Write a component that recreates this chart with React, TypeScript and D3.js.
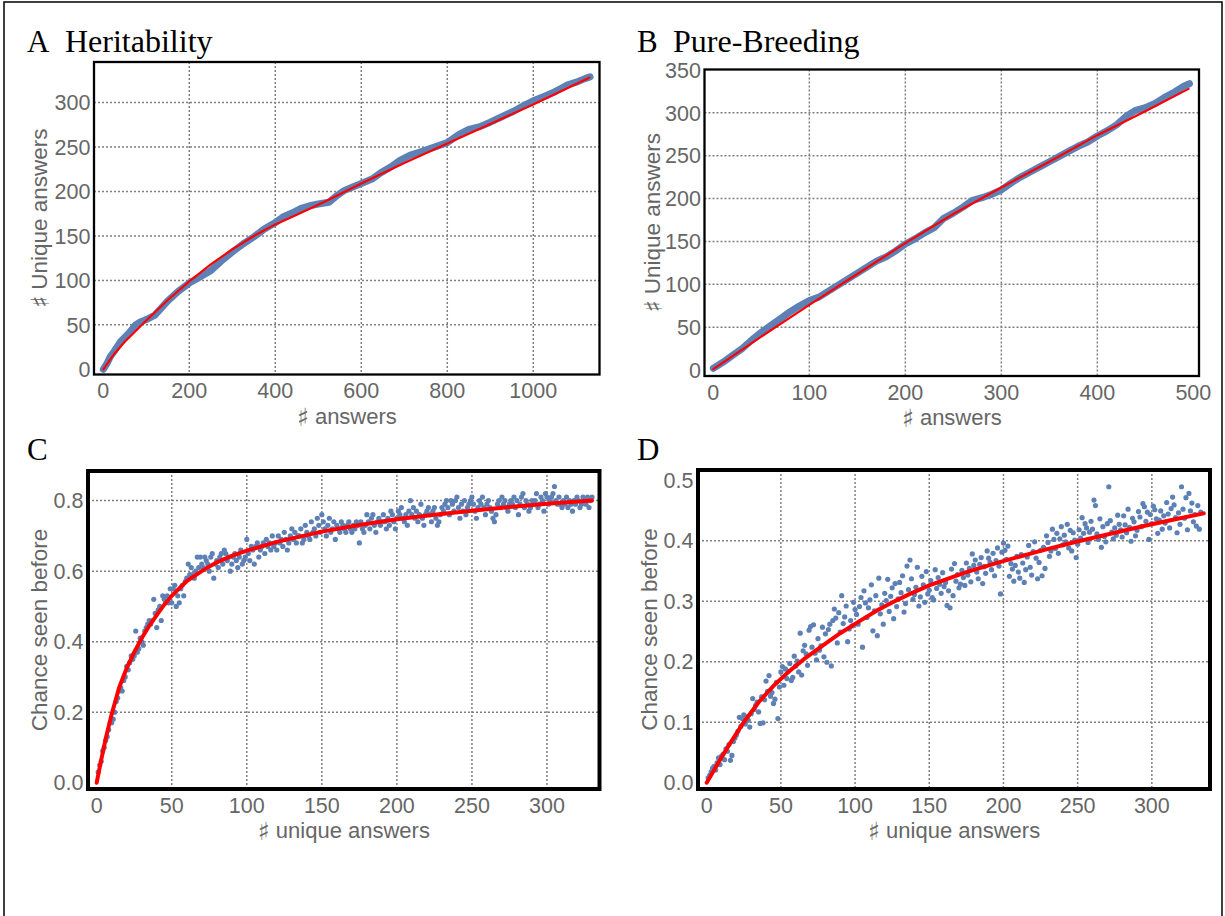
import React from 'react';
import * as d3 from 'd3';

// ---- A: Heritability (cumulative unique answers) ----
const heritAnswers = [0, 8, 16, 25, 40, 60, 75, 85, 100, 120, 150, 175, 200, 225, 250, 275, 300, 325, 350, 375, 400, 420, 440, 460, 480, 500, 525, 545, 560, 580, 600, 625, 645, 670, 690, 714, 740, 770, 800, 830, 850, 876, 900, 922, 953, 975, 1000, 1025, 1045, 1065, 1080, 1100, 1120, 1132];
const heritUnique = [0, 6, 14, 20, 31, 41, 50, 53, 56, 61, 77, 88, 97, 104, 111, 122, 132, 141, 149, 158, 165, 172, 176, 181, 184, 186, 188, 196, 201, 205, 209, 214, 221, 228, 235, 241, 245, 250, 255, 265, 270, 273, 278, 283, 290, 296, 302, 307, 311, 316, 320, 323, 327, 329];
const heritFitX = [0, 25, 50, 100, 150, 200, 250, 300, 350, 400, 450, 500, 550, 600, 700, 800, 900, 1000, 1130];
const heritFitY = [0, 17, 31, 55, 78, 99, 118, 135, 150, 163, 174, 185, 197, 209, 232, 254, 276, 298, 328];

// ---- B: Pure-Breeding ----
const pureAnswers = [0, 10, 20, 30, 40, 50, 60, 70, 80, 90, 100, 110, 120, 130, 140, 150, 160, 170, 180, 190, 200, 210, 220, 230, 240, 250, 260, 270, 280, 290, 300, 310, 320, 330, 340, 350, 360, 370, 380, 390, 400, 410, 420, 430, 440, 450, 460, 470, 480, 490, 496];
const pureUnique = [2, 9, 17, 25, 35, 44, 52, 60, 68, 75, 81, 85, 92, 99, 106, 113, 120, 127, 132, 139, 147, 153, 160, 166, 177, 183, 190, 198, 201, 205, 210, 218, 225, 231, 237, 243, 249, 255, 261, 266, 273, 279, 286, 296, 303, 306, 311, 318, 324, 331, 334];
const pureFitX = [0, 50, 100, 150, 200, 250, 300, 350, 400, 450, 495];
const pureFitY = [1, 39, 76, 112, 148, 182, 213, 243, 274, 302, 328];

// ---- C: chance seen before, Heritability (one point per unique answer) ----
const heritSeen = [
  0.03, 0.05, 0.06, 0.09, 0.10, 0.12, 0.13, 0.15, 0.17, 0.17,
  0.18, 0.20, 0.23, 0.24, 0.26, 0.27, 0.26, 0.29, 0.30, 0.33,
  0.32, 0.34, 0.36, 0.35, 0.36, 0.43, 0.37, 0.38, 0.41, 0.40,
  0.39, 0.43, 0.44, 0.45, 0.46, 0.45, 0.46, 0.52, 0.48, 0.44,
  0.49, 0.50, 0.46, 0.53, 0.52, 0.51, 0.53, 0.51, 0.55, 0.51,
  0.55, 0.56, 0.50, 0.53, 0.51, 0.55, 0.56, 0.53, 0.57, 0.58,
  0.62, 0.59, 0.61, 0.59, 0.58, 0.60, 0.64, 0.61, 0.64, 0.62,
  0.61, 0.64, 0.63, 0.62, 0.60, 0.64, 0.65, 0.58, 0.62, 0.63,
  0.61, 0.64, 0.65, 0.62, 0.66, 0.65, 0.63, 0.64, 0.60, 0.62,
  0.64, 0.65, 0.63, 0.61, 0.64, 0.66, 0.62, 0.63, 0.64, 0.69,
  0.65, 0.63, 0.67, 0.66, 0.62, 0.67, 0.68, 0.64, 0.66, 0.67,
  0.68, 0.65, 0.69, 0.67, 0.68, 0.66, 0.70, 0.67, 0.68, 0.66,
  0.70, 0.68, 0.69, 0.67, 0.71, 0.69, 0.66, 0.68, 0.70, 0.72,
  0.69, 0.71, 0.68, 0.70, 0.70, 0.72, 0.68, 0.69, 0.73, 0.71,
  0.70, 0.69, 0.74, 0.71, 0.72, 0.70, 0.75, 0.73, 0.71, 0.76,
  0.74, 0.72, 0.70, 0.73, 0.75, 0.71, 0.72, 0.74, 0.69, 0.73,
  0.72, 0.71, 0.74, 0.73, 0.72, 0.71, 0.73, 0.74, 0.72, 0.71,
  0.73, 0.72, 0.74, 0.73, 0.68, 0.74, 0.72, 0.71, 0.73, 0.76,
  0.74, 0.72, 0.75, 0.76, 0.73, 0.71, 0.74, 0.75, 0.73, 0.74,
  0.76, 0.74, 0.72, 0.75, 0.73, 0.77, 0.76, 0.74, 0.72, 0.75,
  0.77, 0.76, 0.78, 0.75, 0.74, 0.76, 0.73, 0.77, 0.80, 0.76,
  0.78, 0.75, 0.77, 0.74, 0.76, 0.79, 0.75, 0.73, 0.76, 0.77,
  0.78, 0.76, 0.74, 0.77, 0.78, 0.75, 0.73, 0.74, 0.76, 0.78,
  0.77, 0.79, 0.80, 0.78, 0.76, 0.80, 0.79, 0.77, 0.80, 0.81,
  0.78, 0.75, 0.79, 0.77, 0.80, 0.76, 0.78, 0.79, 0.80, 0.81,
  0.79, 0.77, 0.75, 0.78, 0.80, 0.79, 0.81, 0.78, 0.76, 0.79,
  0.80, 0.78, 0.77, 0.75, 0.74, 0.76, 0.79, 0.80, 0.78, 0.81,
  0.79, 0.80, 0.78, 0.77, 0.79, 0.80, 0.79, 0.81, 0.78, 0.80,
  0.76, 0.79, 0.81, 0.82, 0.78, 0.80, 0.79, 0.77, 0.78, 0.80,
  0.79, 0.80, 0.82, 0.78, 0.79, 0.81, 0.80, 0.77, 0.82, 0.81,
  0.79, 0.80, 0.81, 0.82, 0.84, 0.80, 0.79, 0.81, 0.79, 0.78,
  0.80, 0.79, 0.81, 0.78, 0.80, 0.79, 0.77, 0.80, 0.79, 0.81,
  0.80, 0.78, 0.79, 0.81, 0.80, 0.79, 0.81, 0.78, 0.80, 0.81,
];
const heritSeenFitX = [0, 3, 6, 10, 15, 20, 25, 30, 35, 40, 45, 50, 60, 71, 80, 90, 100, 120, 150, 175, 200, 225, 250, 275, 300, 330];
const heritSeenFitY = [0, 0.065, 0.125, 0.195, 0.27, 0.325, 0.37, 0.41, 0.445, 0.475, 0.505, 0.53, 0.572, 0.603, 0.625, 0.643, 0.658, 0.683, 0.712, 0.731, 0.747, 0.76, 0.771, 0.782, 0.791, 0.80];

// ---- D: chance seen before, Pure-Breeding ----
const pureSeen = [
  0.008, 0.012, 0.018, 0.024, 0.027, 0.021, 0.033, 0.041, 0.030, 0.044,
  0.047, 0.038, 0.056, 0.052, 0.063, 0.037, 0.045, 0.068, 0.074, 0.079,
  0.085, 0.108, 0.093, 0.106, 0.112, 0.097, 0.109, 0.103, 0.092, 0.114,
  0.139, 0.121, 0.128, 0.133, 0.117, 0.098, 0.142, 0.099, 0.137, 0.168,
  0.151, 0.177, 0.143, 0.149, 0.131, 0.138, 0.166, 0.106, 0.158, 0.183,
  0.192, 0.161, 0.188, 0.172, 0.184, 0.197, 0.169, 0.174, 0.209, 0.193,
  0.201, 0.183, 0.247, 0.178, 0.218, 0.227, 0.213, 0.194, 0.252, 0.258,
  0.224, 0.261, 0.214, 0.203, 0.238, 0.219, 0.226, 0.257, 0.208, 0.246,
  0.199, 0.253, 0.262, 0.193, 0.268, 0.287, 0.272, 0.231, 0.281, 0.249,
  0.309, 0.263, 0.274, 0.292, 0.233, 0.254, 0.268, 0.259, 0.298, 0.286,
  0.278, 0.262, 0.291, 0.306, 0.224, 0.317, 0.297, 0.273, 0.289, 0.302,
  0.327, 0.251, 0.284, 0.309, 0.243, 0.338, 0.279, 0.294, 0.262, 0.313,
  0.301, 0.336, 0.283, 0.308, 0.322, 0.271, 0.329, 0.291, 0.304, 0.331,
  0.314, 0.342, 0.282, 0.296, 0.358, 0.319, 0.368, 0.337, 0.303, 0.311,
  0.323, 0.356, 0.292, 0.307, 0.341, 0.327, 0.298, 0.349, 0.312, 0.318,
  0.334, 0.306, 0.302, 0.352, 0.321, 0.339, 0.328, 0.313, 0.347, 0.324,
  0.331, 0.293, 0.317, 0.289, 0.353, 0.309, 0.362, 0.333, 0.344, 0.322,
  0.328, 0.351, 0.339, 0.326, 0.363, 0.343, 0.354, 0.332, 0.378, 0.359,
  0.368, 0.348, 0.337, 0.361, 0.372, 0.329, 0.357, 0.346, 0.383, 0.371,
  0.364, 0.352, 0.379, 0.342, 0.367, 0.388, 0.358, 0.312, 0.381, 0.396,
  0.384, 0.369, 0.391, 0.341, 0.362, 0.353, 0.333, 0.359, 0.374, 0.348,
  0.338, 0.377, 0.363, 0.331, 0.352, 0.373, 0.392, 0.356, 0.343, 0.382,
  0.398, 0.371, 0.337, 0.364, 0.384, 0.342, 0.389, 0.354, 0.408, 0.397,
  0.374, 0.383, 0.419, 0.402, 0.387, 0.412, 0.379, 0.403, 0.423, 0.393,
  0.409, 0.398, 0.427, 0.388, 0.417, 0.383, 0.413, 0.401, 0.372, 0.394,
  0.418, 0.404, 0.438, 0.412, 0.428, 0.421, 0.397, 0.414, 0.432, 0.419,
  0.467, 0.458, 0.411, 0.402, 0.436, 0.389, 0.423, 0.407, 0.398, 0.428,
  0.489, 0.433, 0.414, 0.403, 0.421, 0.409, 0.442, 0.427, 0.418, 0.406,
  0.441, 0.426, 0.413, 0.452, 0.422, 0.399, 0.437, 0.431, 0.408, 0.417,
  0.448, 0.439, 0.423, 0.461, 0.456, 0.432, 0.447, 0.402, 0.443, 0.428,
  0.457, 0.451, 0.436, 0.412, 0.434, 0.449, 0.419, 0.441, 0.429, 0.463,
  0.444, 0.421, 0.453, 0.472, 0.459, 0.438, 0.413, 0.446, 0.427, 0.489,
  0.452, 0.437, 0.471, 0.418, 0.478, 0.449, 0.462, 0.431, 0.443, 0.424, 0.458, 0.419, 0.447,
];
const pureSeenFitX = [0, 5, 10, 15, 20, 25, 35, 45, 55, 66, 80, 90, 103, 115, 126, 137, 150, 175, 198, 225, 247, 275, 296, 315, 335];
const pureSeenFitY = [0, 0.021, 0.042, 0.062, 0.081, 0.10, 0.133, 0.16, 0.183, 0.205, 0.23, 0.247, 0.267, 0.285, 0.299, 0.312, 0.326, 0.348, 0.365, 0.383, 0.397, 0.413, 0.425, 0.435, 0.445];

const BLUE = '#5E81B5';
const RED = '#FF0000';
const GRID = '#808080';
const TICK_COLOR = '#666';
const SANS = "'Liberation Sans', Arial, sans-serif";
const SERIF = "'Liberation Serif', 'Times New Roman', serif";
const SHARP = "'DejaVu Sans', sans-serif";

// axis title, with the sharp sign taken from DejaVu so it is not an emoji fallback
const AxisTitle = ({ text }: { text: string }) => {
  if (!text.startsWith('♯')) return <>{text}</>;
  return (
    <>
      <tspan fontFamily={SHARP} fontSize={25} dy={2} fill={TICK_COLOR}>♯</tspan>
      <tspan dy={-2}>{text.slice(1)}</tspan>
    </>
  );
};

type PanelProps = {
  letter: string;
  letterX: number;
  title: string;
  titleX: number;
  titleY: number;
  box: [number, number, number, number];
  frameWidth: number;
  xDomain: [number, number];
  yDomain: [number, number];
  xTicks: number[];
  yTicks: number[];
  xGrid: number[];
  yGrid: number[];
  yFormat: (v: number) => string;
  xTitle: string;
  yTitle: string;
  yTitleX: number;
  bandX?: number[];
  bandY?: number[];
  dotsY?: number[];
  fitX: number[];
  fitY: number[];
  fitWidth: number;
};

const Panel = (p: PanelProps) => {
  const [x0, y0, x1, y1] = p.box;
  const x = d3.scaleLinear().domain(p.xDomain).range([x0, x1]);
  const y = d3.scaleLinear().domain(p.yDomain).range([y1, y0]);
  const line = d3.line<[number, number]>().x(d => x(d[0])).y(d => y(d[1]));
  const fit = line(p.fitX.map((v, i) => [v, p.fitY[i]]));
  const band = p.bandX ? line(p.bandX.map((v, i) => [v, p.bandY![i]])) : null;

  return (
    <g>
      <text x={p.letterX} y={p.titleY} fontFamily={SERIF} fontSize={31} fill="#000">{p.letter}</text>
      {p.title && <text x={p.titleX} y={p.titleY} fontFamily={SERIF} fontSize={32} fill="#000">{p.title}</text>}

      {/* grid */}
      {p.xGrid.map(v => (
        <line key={'gx' + v} x1={x(v)} x2={x(v)} y1={y0} y2={y1} stroke={GRID} strokeWidth={1.5} strokeDasharray="2 2" />
      ))}
      {p.yGrid.map(v => (
        <line key={'gy' + v} x1={x0} x2={x1} y1={y(v)} y2={y(v)} stroke={GRID} strokeWidth={1.5} strokeDasharray="2 2" />
      ))}

      {/* data */}
      {band && <path d={band} fill="none" stroke={BLUE} strokeWidth={7} strokeLinecap="round" strokeLinejoin="round" />}
      {p.dotsY && p.dotsY.map((v, i) => (
        <circle key={i} cx={x(i + 1)} cy={y(v)} r={2.6} fill={BLUE} />
      ))}
      <path d={fit!} fill="none" stroke={RED} strokeWidth={p.fitWidth} strokeLinecap="round" />

      {/* frame */}
      <rect x={x0} y={y0} width={x1 - x0} height={y1 - y0} fill="none" stroke="#000" strokeWidth={p.frameWidth} />

      {/* tick labels */}
      {p.xTicks.map(v => (
        <text key={'tx' + v} x={x(v)} y={y1 + 23.5} textAnchor="middle" fontFamily={SANS} fontSize={21.5} fill={TICK_COLOR}>{v}</text>
      ))}
      {p.yTicks.map(v => (
        <text key={'ty' + v} x={x0 - p.frameWidth / 2 - 2.5} y={y(v)} dy="0.36em" textAnchor="end" fontFamily={SANS} fontSize={21.5} fill={TICK_COLOR}>{p.yFormat(v)}</text>
      ))}

      {/* axis titles */}
      <text x={(x0 + x1) / 2} y={y1 + 49} textAnchor="middle" fontFamily={SANS} fontSize={22} fill={TICK_COLOR}>
        <AxisTitle text={p.xTitle} />
      </text>
      <text transform={`translate(${p.yTitleX},${(y0 + y1) / 2}) rotate(-90)`} textAnchor="middle" fontFamily={SANS} fontSize={22.5} fill={TICK_COLOR}>
        <AxisTitle text={p.yTitle} />
      </text>
    </g>
  );
};

const App = () => {
  const intFmt = (v: number) => String(v);
  const oneDec = d3.format('.1f');
  return (
    <div style={{ position: 'absolute', left: 0, top: 0 }}>
      <svg width={1225} height={916} style={{ display: 'block', background: '#fff' }}>
        <rect x={4} y={2} width={1218} height={940} fill="none" stroke="#000" strokeWidth={1.5} />

        <Panel letter="A" letterX={27} title="Heritability" titleX={65} titleY={52}
          box={[94, 62, 599.5, 374.5]} frameWidth={2.3}
          xDomain={[-21.6, 1154]} yDomain={[-5.85, 345.7]}
          xTicks={[0, 200, 400, 600, 800, 1000]} yTicks={[0, 50, 100, 150, 200, 250, 300]}
          xGrid={[200, 400, 600, 800, 1000]} yGrid={[50, 100, 150, 200, 250, 300]}
          yFormat={intFmt} xTitle="♯ answers" yTitle="♯ Unique answers" yTitleX={47}
          bandX={heritAnswers} bandY={heritUnique}
          fitX={heritFitX} fitY={heritFitY} fitWidth={2.2} />

        <Panel letter="B" letterX={637} title="Pure-Breeding" titleX={673} titleY={52}
          box={[704.5, 69.5, 1199, 376]} frameWidth={2.3}
          xDomain={[-9.2, 505.9]} yDomain={[-7.0, 350.6]}
          xTicks={[0, 100, 200, 300, 400, 500]} yTicks={[0, 50, 100, 150, 200, 250, 300, 350]}
          xGrid={[100, 200, 300, 400]} yGrid={[50, 100, 150, 200, 250, 300]}
          yFormat={intFmt} xTitle="♯ answers" yTitle="♯ Unique answers" yTitleX={660}
          bandX={pureAnswers} bandY={pureUnique}
          fitX={pureFitX} fitY={pureFitY} fitWidth={2.2} />

        <Panel letter="C" letterX={27} title="" titleX={0} titleY={460}
          box={[88, 471, 599.5, 789]} frameWidth={4}
          xDomain={[-5.8, 335]} yDomain={[-0.0179, 0.884]}
          xTicks={[0, 50, 100, 150, 200, 250, 300]} yTicks={[0, 0.2, 0.4, 0.6, 0.8]}
          xGrid={[50, 100, 150, 200, 250, 300]} yGrid={[0.2, 0.4, 0.6, 0.8]}
          yFormat={oneDec} xTitle="♯ unique answers" yTitle="Chance seen before" yTitleX={47}
          dotsY={heritSeen}
          fitX={heritSeenFitX} fitY={heritSeenFitY} fitWidth={4} />

        <Panel letter="D" letterX={637} title="" titleX={0} titleY={460}
          box={[698, 470, 1210, 789]} frameWidth={4}
          xDomain={[-5.86, 339.2]} yDomain={[-0.0104, 0.5167]}
          xTicks={[0, 50, 100, 150, 200, 250, 300]} yTicks={[0, 0.1, 0.2, 0.3, 0.4, 0.5]}
          xGrid={[50, 100, 150, 200, 250, 300]} yGrid={[0.1, 0.2, 0.3, 0.4]}
          yFormat={oneDec} xTitle="♯ unique answers" yTitle="Chance seen before" yTitleX={657}
          dotsY={pureSeen}
          fitX={pureSeenFitX} fitY={pureSeenFitY} fitWidth={4} />
      </svg>
    </div>
  );
};

export default App;
